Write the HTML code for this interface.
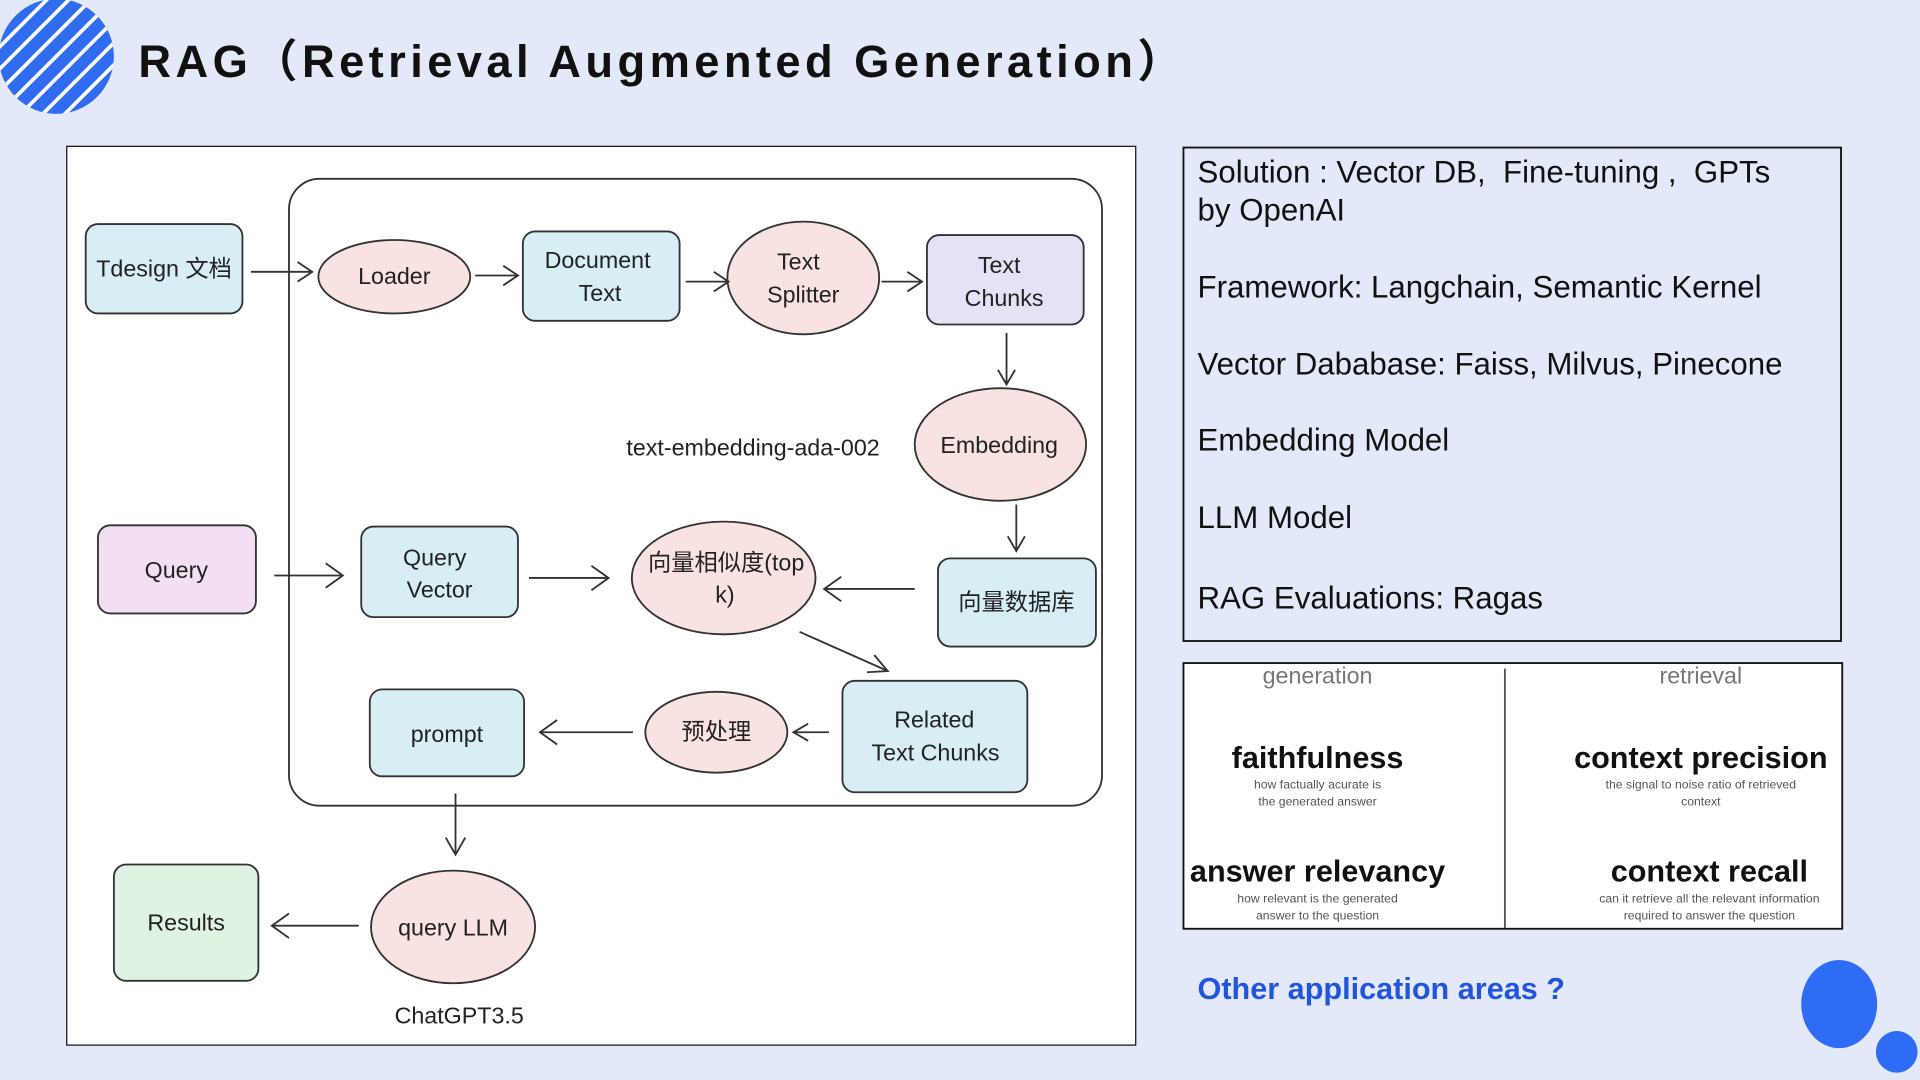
<!DOCTYPE html>
<html><head><meta charset="utf-8"><style>
html,body{margin:0;padding:0;background:#e4e9f9;overflow:hidden}
#w{width:1568px;height:882px;transform:scale(1.22449);transform-origin:0 0;position:relative;font-family:"Liberation Sans","Noto Sans CJK SC",sans-serif}
.t{position:absolute;left:978px;font-size:25.5px;color:#111;line-height:31px}
</style></head><body><div id="w">
<svg width="1568" height="882" style="position:absolute;left:0;top:0" font-family="Liberation Sans, Noto Sans CJK SC, sans-serif">
<defs><clipPath id="c"><circle cx="46" cy="46" r="47"/></clipPath></defs>
<circle cx="46" cy="46" r="47" fill="#2f6cf0"/>
<g clip-path="url(#c)" stroke="#fff" stroke-width="3">
<line x1="-20" y1="40" x2="40" y2="-20"/><line x1="-20" y1="58" x2="58" y2="-20"/><line x1="-20" y1="76" x2="76" y2="-20"/><line x1="-20" y1="94" x2="94" y2="-20"/><line x1="-20" y1="112" x2="112" y2="-20"/><line x1="-10" y1="120" x2="120" y2="-10"/><line x1="8" y1="120" x2="120" y2="8"/><line x1="26" y1="120" x2="120" y2="26"/><line x1="44" y1="120" x2="120" y2="44"/><line x1="62" y1="120" x2="120" y2="62"/>
</g>
<text x="113" y="63" font-size="37" font-weight="bold" letter-spacing="3.6" fill="#111">RAG（Retrieval Augmented Generation）</text>
<rect x="54.5" y="119.5" width="873" height="734" fill="#fff" stroke="#111"/>
<rect x="236" y="146" width="664" height="512" rx="25" fill="none" stroke="#333" stroke-width="1.5"/>
<g stroke="#333" stroke-width="1.5" font-size="19" text-anchor="middle" fill="#222">
<rect x="70" y="183" width="128" height="73" rx="10" fill="#d8eef5"/>
<ellipse cx="322" cy="226" rx="62" ry="30" fill="#f8e2e2"/>
<rect x="427" y="189" width="128" height="73" rx="10" fill="#d8eef5"/>
<ellipse cx="656" cy="227" rx="62" ry="46" fill="#f8e2e2"/>
<rect x="757" y="192" width="128" height="73" rx="10" fill="#e6e2f6"/>
<ellipse cx="817" cy="363" rx="70" ry="46" fill="#f8e2e2"/>
<rect x="80" y="429" width="129" height="72" rx="10" fill="#f2e0f2"/>
<rect x="295" y="430" width="128" height="74" rx="10" fill="#d8eef5"/>
<ellipse cx="591" cy="472" rx="75" ry="46" fill="#f8e2e2"/>
<rect x="766" y="456" width="129" height="72" rx="10" fill="#d8eef5"/>
<rect x="688" y="556" width="151" height="91" rx="10" fill="#d8eef5"/>
<ellipse cx="585" cy="598" rx="58" ry="33" fill="#f8e2e2"/>
<rect x="302" y="563" width="126" height="71" rx="10" fill="#d8eef5"/>
<ellipse cx="370" cy="757" rx="67" ry="46" fill="#f8e2e2"/>
<rect x="93" y="706" width="118" height="95" rx="10" fill="#dff3e3"/>
<path fill="none" d="M205 222H255M243 214L255 222L243 230M388 225H423M411 217L423 225L411 233M560 230H595M583 222L595 230L583 238M720 230H753M741 222L753 230L741 238M822 272V314M815 302L822 314L829 302M830 412V450M823 438L830 450L837 438M224 470H280M266 460L280 470L266 480M432 472H497M483 462L497 472L483 482M747 481H673M687 471L673 481L687 491M653 516L725 548M708 549L725 548L714 535M677 598H648M660 591L648 598L660 605M517 598H441M455 588L441 598L455 608M372 648V698M364 684L372 698L380 684M293 756H222M236 746L222 756L236 766"/>
</g>
<g font-size="19" text-anchor="middle" fill="#222">
<text x="134" y="226">Tdesign 文档</text>
<text x="322" y="232">Loader</text>
<text x="488" y="219">Document</text><text x="490" y="246">Text</text>
<text x="652" y="220">Text</text><text x="656" y="247">Splitter</text>
<text x="816" y="223">Text</text><text x="820" y="250">Chunks</text>
<text x="816" y="370">Embedding</text>
<text x="615" y="372">text-embedding-ada-002</text>
<text x="144" y="472">Query</text>
<text x="355" y="462">Query</text><text x="359" y="488">Vector</text>
<text x="593" y="466">向量相似度(top</text><text x="592" y="492">k)</text>
<text x="830" y="498">向量数据库</text>
<text x="763" y="594">Related</text><text x="764" y="621">Text Chunks</text>
<text x="585" y="604">预处理</text>
<text x="365" y="606">prompt</text>
<text x="370" y="764">query LLM</text>
<text x="152" y="760">Results</text>
<text x="375" y="836">ChatGPT3.5</text>
</g>
<rect x="966.5" y="120.5" width="537" height="403" fill="none" stroke="#111" stroke-width="1.5"/>
<rect x="966.5" y="541.5" width="538" height="217" fill="#fff" stroke="#111" stroke-width="1.5"/>
<line x1="1229" y1="546" x2="1229" y2="758" stroke="#555" stroke-width="1.5"/>
<g text-anchor="middle">
<text x="1076" y="558" font-size="19" fill="#777">generation</text>
<text x="1389" y="558" font-size="19" fill="#777">retrieval</text>
<text x="1076" y="627" font-size="25" font-weight="bold" fill="#111">faithfulness</text>
<text x="1076" y="644" font-size="10" fill="#555">how factually acurate is</text>
<text x="1076" y="658" font-size="10" fill="#555">the generated answer</text>
<text x="1389" y="627" font-size="25" font-weight="bold" fill="#111">context precision</text>
<text x="1389" y="644" font-size="10" fill="#555">the signal to noise ratio of retrieved</text>
<text x="1389" y="658" font-size="10" fill="#555">context</text>
<text x="1076" y="720" font-size="25" font-weight="bold" fill="#111">answer relevancy</text>
<text x="1076" y="737" font-size="10" fill="#555">how relevant is the generated</text>
<text x="1076" y="751" font-size="10" fill="#555">answer to the question</text>
<text x="1396" y="720" font-size="25" font-weight="bold" fill="#111">context recall</text>
<text x="1396" y="737" font-size="10" fill="#555">can it retrieve all the relevant information</text>
<text x="1396" y="751" font-size="10" fill="#555">required to answer the question</text>
</g>
<text x="978" y="816" font-size="25" font-weight="bold" fill="#2255dd">Other application areas ?</text>
<ellipse cx="1502" cy="820" rx="31" ry="36" fill="#2e6cf5"/>
<circle cx="1549" cy="859" r="17" fill="#2e6cf5"/>
</svg>
<div class="t" style="top:126px">Solution : Vector DB,&nbsp; Fine-tuning ,&nbsp; GPTs<br>by OpenAI</div>
<div class="t" style="top:220px">Framework: Langchain, Semantic Kernel</div>
<div class="t" style="top:283px">Vector Dababase: Faiss, Milvus, Pinecone</div>
<div class="t" style="top:345px">Embedding Model</div>
<div class="t" style="top:408px">LLM Model</div>
<div class="t" style="top:474px">RAG Evaluations: Ragas</div>
</div></body></html>
